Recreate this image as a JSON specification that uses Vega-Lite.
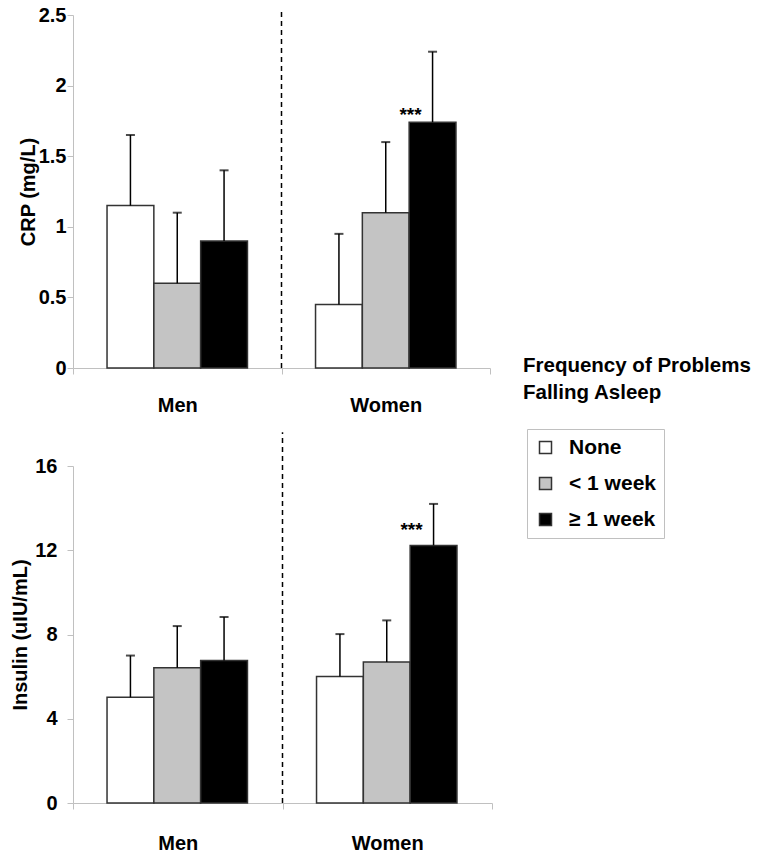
{
  "$schema": "https://vega.github.io/schema/vega-lite/v6.json",
  "padding": {"left": 10, "top": 5, "right": 5, "bottom": 5},
  "bounds": "flush",
  "spacing": 98,
  "config": {
    "font": "Liberation Sans",
    "view": {"stroke": null},
    "axis": {
      "grid": false,
      "domainColor": "#c0c0c0",
      "tickColor": "#c0c0c0",
      "tickSize": 6,
      "labelColor": "#000000",
      "labelFontWeight": "bold",
      "labelFontSize": 20,
      "titleColor": "#000000",
      "titleFontWeight": "bold",
      "titleFontSize": 20
    }
  },
  "datasets": {
    "crp": [
      {"group": "Men", "level": "None", "mean": 1.15, "upper": 1.65},
      {"group": "Men", "level": "< 1 week", "mean": 0.6, "upper": 1.1},
      {"group": "Men", "level": "≥ 1 week", "mean": 0.9, "upper": 1.4},
      {"group": "Women", "level": "None", "mean": 0.45, "upper": 0.95},
      {"group": "Women", "level": "< 1 week", "mean": 1.1, "upper": 1.6},
      {"group": "Women", "level": "≥ 1 week", "mean": 1.74, "upper": 2.24, "sig": "***"}
    ],
    "ins": [
      {"group": "Men", "level": "None", "mean": 5.02, "upper": 7.0},
      {"group": "Men", "level": "< 1 week", "mean": 6.42, "upper": 8.4},
      {"group": "Men", "level": "≥ 1 week", "mean": 6.77, "upper": 8.83},
      {"group": "Women", "level": "None", "mean": 6.01, "upper": 8.02},
      {"group": "Women", "level": "< 1 week", "mean": 6.7, "upper": 8.67},
      {"group": "Women", "level": "≥ 1 week", "mean": 12.23, "upper": 14.2, "sig": "***"}
    ]
  },
  "vconcat": [
    {
      "width": 417,
      "height": 353,
      "data": {"name": "crp"},
      "encoding": {
        "x": {
          "field": "group", "type": "nominal", "sort": ["Men", "Women"],
          "scale": {"paddingInner": 0, "paddingOuter": 0},
          "axis": {"title": null, "labelAngle": 0, "tickBand": "extent", "labelPadding": 21}
        }
      },
      "layer": [
        {
          "mark": {"type": "bar", "stroke": "#333333", "strokeWidth": 1.5},
          "encoding": {
            "xOffset": {"field": "level", "type": "nominal", "sort": ["None", "< 1 week", "≥ 1 week"], "scale": {"paddingInner": 0, "paddingOuter": 0.727}},
            "y": {
              "field": "mean", "type": "quantitative",
              "scale": {"domain": [0, 2.5], "nice": false},
              "axis": {"title": "CRP (mg/L)", "values": [0, 0.5, 1, 1.5, 2, 2.5], "format": "~g", "labelPadding": 1, "titlePadding": 0}
            },
            "color": {
              "field": "level", "type": "nominal",
              "sort": ["None", "< 1 week", "≥ 1 week"],
              "scale": {"domain": ["None", "< 1 week", "≥ 1 week"], "range": ["#ffffff", "#c4c4c4", "#000000"]},
              "legend": {
                "title": null, "orient": "none", "legendX": 454, "legendY": 414,
                "strokeColor": "#c0c0c0", "padding": 8,
                "symbolType": "square", "symbolSize": 144,
                "symbolStrokeColor": "#222222", "symbolStrokeWidth": 1.5,
                "labelFontSize": 21, "labelFontWeight": "bold", "labelColor": "#000000",
                "labelOffset": 13, "rowPadding": 14
              }
            }
          }
        },
        {
          "mark": {"type": "rule", "color": "#000000", "strokeWidth": 1.5},
          "encoding": {
            "xOffset": {"field": "level", "type": "nominal", "sort": ["None", "< 1 week", "≥ 1 week"]},
            "y": {"field": "mean", "type": "quantitative"},
            "y2": {"field": "upper"}
          }
        },
        {
          "mark": {"type": "tick", "color": "#000000", "thickness": 2, "size": 9},
          "encoding": {
            "xOffset": {"field": "level", "type": "nominal", "sort": ["None", "< 1 week", "≥ 1 week"]},
            "y": {"field": "upper", "type": "quantitative"}
          }
        },
        {
          "transform": [{"filter": "datum.sig"}],
          "mark": {"type": "text", "fontSize": 19, "fontWeight": "bold", "baseline": "alphabetic", "dx": -22, "dy": -1, "color": "#000000"},
          "encoding": {
            "xOffset": {"field": "level", "type": "nominal", "sort": ["None", "< 1 week", "≥ 1 week"]},
            "y": {"field": "mean", "type": "quantitative"},
            "text": {"field": "sig"}
          }
        },
        {
          "data": {"values": [{}]},
          "mark": {"type": "rule", "color": "#000000", "strokeWidth": 1.5, "strokeDash": [5, 4]},
          "encoding": {
            "x": {"datum": "Women", "type": "nominal", "bandPosition": 0},
            "y": {"datum": 0, "type": "quantitative"},
            "y2": {"datum": 2.55}
          }
        }
      ]
    },
    {
      "width": 419,
      "height": 337,
      "data": {"name": "ins"},
      "title": {
        "text": ["Frequency of Problems", "Falling Asleep"],
        "anchor": "start", "frame": "group", "align": "left",
        "dx": 450, "offset": 28,
        "fontSize": 20.5, "fontWeight": "bold", "lineHeight": 27, "color": "#000000"
      },
      "encoding": {
        "x": {
          "field": "group", "type": "nominal", "sort": ["Men", "Women"],
          "scale": {"paddingInner": 0, "paddingOuter": 0},
          "axis": {"title": null, "labelAngle": 0, "tickBand": "extent", "labelPadding": 24}
        }
      },
      "layer": [
        {
          "mark": {"type": "bar", "stroke": "#333333", "strokeWidth": 1.5},
          "encoding": {
            "xOffset": {"field": "level", "type": "nominal", "sort": ["None", "< 1 week", "≥ 1 week"], "scale": {"paddingInner": 0, "paddingOuter": 0.727}},
            "y": {
              "field": "mean", "type": "quantitative",
              "scale": {"domain": [0, 16], "nice": false},
              "axis": {"title": "Insulin (uIU/mL)", "values": [0, 4, 8, 12, 16], "labelPadding": 10, "titlePadding": 4}
            },
            "color": {
              "field": "level", "type": "nominal",
              "sort": ["None", "< 1 week", "≥ 1 week"],
              "scale": {"domain": ["None", "< 1 week", "≥ 1 week"], "range": ["#ffffff", "#c4c4c4", "#000000"]}
            }
          }
        },
        {
          "mark": {"type": "rule", "color": "#000000", "strokeWidth": 1.5},
          "encoding": {
            "xOffset": {"field": "level", "type": "nominal", "sort": ["None", "< 1 week", "≥ 1 week"]},
            "y": {"field": "mean", "type": "quantitative"},
            "y2": {"field": "upper"}
          }
        },
        {
          "mark": {"type": "tick", "color": "#000000", "thickness": 2, "size": 9},
          "encoding": {
            "xOffset": {"field": "level", "type": "nominal", "sort": ["None", "< 1 week", "≥ 1 week"]},
            "y": {"field": "upper", "type": "quantitative"}
          }
        },
        {
          "transform": [{"filter": "datum.sig"}],
          "mark": {"type": "text", "fontSize": 19, "fontWeight": "bold", "baseline": "alphabetic", "dx": -22, "dy": -9, "color": "#000000"},
          "encoding": {
            "xOffset": {"field": "level", "type": "nominal", "sort": ["None", "< 1 week", "≥ 1 week"]},
            "y": {"field": "mean", "type": "quantitative"},
            "text": {"field": "sig"}
          }
        },
        {
          "data": {"values": [{}]},
          "mark": {"type": "rule", "color": "#000000", "strokeWidth": 1.5, "strokeDash": [5, 4]},
          "encoding": {
            "x": {"datum": "Women", "type": "nominal", "bandPosition": 0},
            "y": {"datum": 0, "type": "quantitative"},
            "y2": {"datum": 17.6}
          }
        }
      ]
    }
  ]
}
